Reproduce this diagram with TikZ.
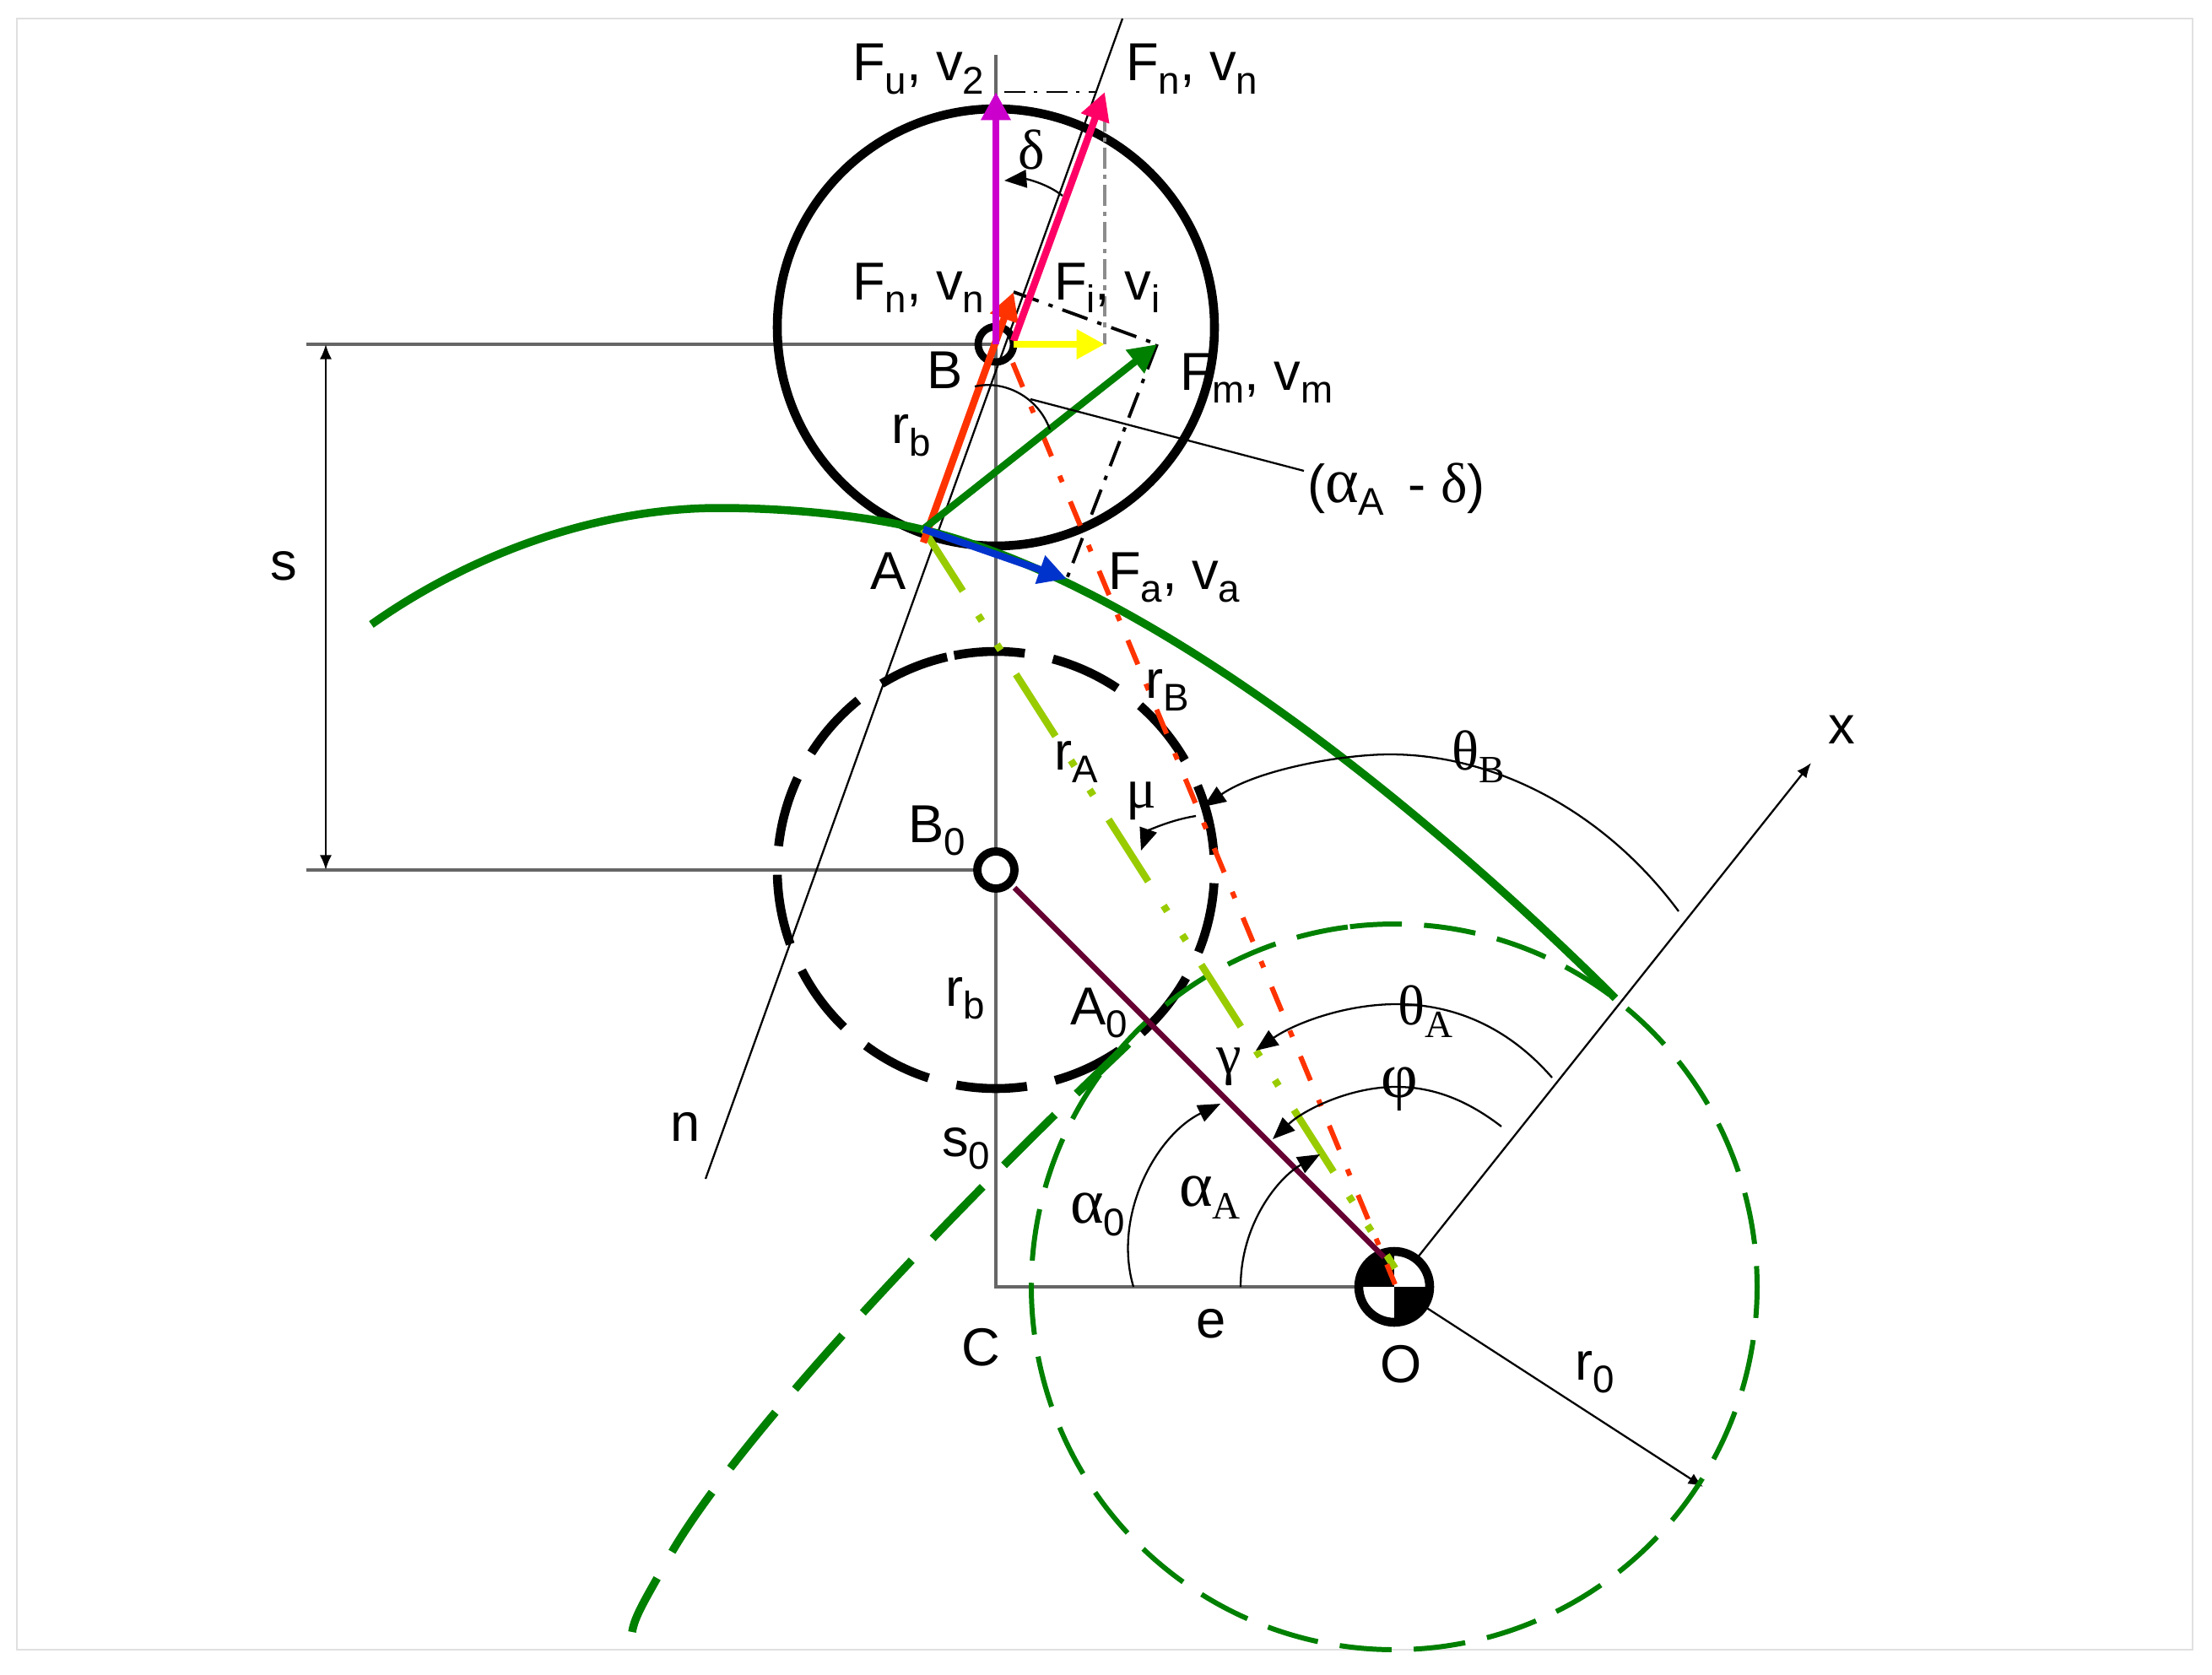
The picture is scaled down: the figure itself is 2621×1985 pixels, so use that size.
\documentclass[tikz,border=0pt]{standalone}
\usepackage{fontspec}
\setmainfont{Liberation Sans}
\newfontfamily\grk{Liberation Serif}
\usetikzlibrary{arrows.meta}
\definecolor{camgreen}{HTML}{008000}
\definecolor{lime}{HTML}{99CC00}
\definecolor{redor}{HTML}{FF3300}
\definecolor{pink}{HTML}{FF0066}
\definecolor{magen}{HTML}{CC00CC}
\definecolor{bluea}{HTML}{0033CC}
\definecolor{plum}{HTML}{660033}
\definecolor{yel}{HTML}{FFFF00}
\newcommand\sbx[1]{\raisebox{-4.4pt}{\fontsize{13}{13}\selectfont #1}}
\newcommand\sbg[1]{\raisebox{-4.4pt}{\grk\fontsize{13}{13}\selectfont #1}}
\newcommand\gk[1]{{\grk\fontsize{19}{19}\selectfont #1}}
\newcommand\gkw[1]{{\grk\fontsize{21.5}{21.5}\selectfont #1}}
\tikzset{
  lab/.style={anchor=base west,inner sep=0pt,outer sep=0pt,font=\fontsize{18}{20}\selectfont},
  guide/.style={draw=black!60,line width=0.9pt},
  thin line/.style={draw=black,line width=0.65pt},
  small arrow/.style={thin line,-{Latex[length=5pt,width=4pt]}},
  angle arrow/.style={thin line,-{Triangle[length=7.5pt,width=6pt]}},
  force/.style={line width=2.4pt,-{Triangle[length=9.5pt,width=9.5pt]}},
  construct/.style={draw=black,line width=1.1pt,dash pattern=on 9pt off 3.5pt on 1.5pt off 3.5pt},
  fine construct/.style={draw=black,line width=.6pt,dash pattern=on 7pt off 3pt on 1.2pt off 3pt},
  gray construct/.style={draw=black!45,line width=1.2pt,dash pattern=on 7pt off 2pt on 1.5pt off 2pt},
  rollerline/.style={draw=black,line width=3pt},
  basedash/.style={draw=camgreen,line width=1.7pt,dash pattern=on 17.5pt off 7.5pt},
  camline/.style={draw=camgreen,line width=2.7pt},
  camdash/.style={camline,dash pattern=on 24.2pt off 10.2pt},
  limedash/.style={draw=lime,line width=2.4pt,dash pattern=on 24.75pt off 9.67pt on 2.28pt off 9.4pt on 2.28pt off 9.67pt},
  reddash/.style={draw=redor,line width=1.7pt,dash pattern=on 8.8pt off 7.1pt on 2.3pt off 7.1pt}
}
\begin{document}
\begin{tikzpicture}[x=0.01cm,y=-0.01cm]
\useasboundingbox (0,0) rectangle (2621,1985);
\fill[white] (0,0) rectangle (2621,1985);
\draw[black!12,line width=0.6pt] (20,22) rectangle (2598,1955);

% points
\coordinate (B) at (1180,408);
\coordinate (B0) at (1180,1031);
\coordinate (C) at (1180,1525);
\coordinate (O) at (1652,1525);
\coordinate (A) at (1094,627);
\coordinate (Atail) at (1094,643);
\coordinate (Vtop) at (1180,65);
\coordinate (Lb) at (363,408);
\coordinate (Lb0) at (363,1031);
\coordinate (Sb) at (386,408);
\coordinate (Sb0) at (386,1031);
\coordinate (Ntop) at (1330,22);
\coordinate (Nbot) at (836,1397);
\coordinate (Xend) at (2146,904);
\coordinate (Rend) at (2018,1762);
\coordinate (FuT) at (1180,109);
\coordinate (FnS) at (1201,404);
\coordinate (FnT) at (1309,109);
\coordinate (FiS) at (1201,408);
\coordinate (FiT) at (1309,408);
\coordinate (FmT) at (1371,408);
\coordinate (FaT) at (1264,686);
\coordinate (RbT) at (1201,346);
\coordinate (RedS) at (1200,430);
\coordinate (RedE) at (1653,1522);
\coordinate (LimeE) at (1653,1503);
\coordinate (PurS) at (1202,1052);
\coordinate (PurE) at (1640,1490);
\coordinate (LeadS) at (1221,473);
\coordinate (LeadE) at (1545,558);

% guide lines
\draw[guide] (Vtop) -- (C) -- (O);
\draw[guide] (Lb) -- (B);
\draw[guide] (Lb0) -- (B0);
\draw[thin line,{Latex[length=5pt,width=4pt]}-{Latex[length=5pt,width=4pt]}] (Sb) -- (Sb0);
\draw[thin line] (Ntop) -- (Nbot);
\draw[small arrow] (O) -- (Xend);
\draw[small arrow] (O) -- (Rend);

% circles
\draw[rollerline] (1180,388) circle[radius=259];
\draw[rollerline,dash pattern=on 23.9pt off 9.67pt] plot[smooth,samples=181,domain=-11:349,variable=\t] ({1180+259*sin(\t)},{1031-259*cos(\t)});
\draw[basedash] plot[smooth,samples=181,domain=-7:353,variable=\t] ({1652+430*sin(\t)},{1525-430*cos(\t)});

% cam profile
\draw[camline] (440,740) .. controls (560,655) and (710,602) .. (852,602) .. controls (940,602) and (1030,612) .. (1095,628) .. controls (1370,695) and (1700,970) .. (1914,1183);
\draw[camdash] (1337,1237) .. controls (1050,1510) and (850,1740) .. (790,1850) .. controls (765,1895) and (752,1915) .. (749,1934);

% construction lines
\draw[fine construct] (1190,109) -- (1300,109);
\draw[gray construct] (FnT) ++(0,22) -- (FiT);
\draw[construct] (RbT) -- (FmT);
\draw[construct] (FmT) -- (FaT);

% ring B
\draw[black,line width=2.5pt] (B) circle[radius=21];

% O symbol
\fill[white] (O) circle[radius=45];
\begin{scope}
\clip (O) circle[radius=45];
\fill[black] (O) rectangle ++(-50,-50);
\fill[black] (O) rectangle ++(50,50);
\end{scope}
\draw[black,line width=3pt] (O) circle[radius=42];

% dashed radii
\draw[limedash] (A) -- (LimeE);
\draw[reddash] (RedS) -- (RedE);
\draw[plum,line width=1.9pt] (PurS) -- (PurE);

% ring B0
\draw[black,line width=2.8pt,fill=white] (B0) circle[radius=22];

% force arrows
\draw[force,redor] (Atail) -- (RbT);
\draw[force,magen] (B) -- (FuT);
\draw[force,pink] (FnS) -- (FnT);
\draw[force,yel] (FiS) -- (FiT);
\draw[force,camgreen] (A) -- (FmT);
\draw[force,bluea] (A) -- (FaT);

% angle marks
\draw[angle arrow] (1259,232) .. controls (1240,217) and (1215,212) .. (1190,214);
\draw[thin line] (1155,458) .. controls (1190,450) and (1230,470) .. (1244,509);
\draw[thin line] (LeadS) -- (LeadE);
\draw[angle arrow] (1989,1080) .. controls (1900,960) and (1770,894) .. (1647,894) .. controls (1590,894) and (1490,912) .. (1426,956);
\draw[angle arrow] (1839,1277) .. controls (1785,1215) and (1720,1190) .. (1655,1190) .. controls (1590,1190) and (1530,1215) .. (1488,1245);
\draw[angle arrow] (1779,1335) .. controls (1740,1305) and (1700,1288) .. (1654,1288) .. controls (1600,1288) and (1545,1315) .. (1508,1350);
\draw[angle arrow] (1470,1525) .. controls (1470,1450) and (1515,1395) .. (1564,1368);
\draw[angle arrow] (1343,1525) .. controls (1318,1440) and (1370,1345) .. (1446,1308);
\draw[angle arrow] (1417,967) .. controls (1385,972) and (1360,985) .. (1352,1008);

% labels
\node[lab] (tFu) at (1010,96) {F\sbx{u}, v\sbx{2}};
\node[lab] (tFnT) at (1334,96) {F\sbx{n}, v\sbx{n}};
\node[lab] (tFn) at (1010,355) {F\sbx{n}, v\sbx{n}};
\node[lab] (tFi) at (1249,355) {F\sbx{i}, v\sbx{i}};
\node[lab] (tB) at (1098,460) {B};
\node[lab] (tFm) at (1398,462) {F\sbx{m}, v\sbx{m}};
\node[lab] (trb) at (1056,525) {r\sbx{b}};
\node[lab] (tad) at (1549,595) {(\gkw{α}\sbx{A}\, - \gk{δ})};
\node[lab] (tA) at (1031,698) {A};
\node[lab] (tFa) at (1313,698) {F\sbx{a}, v\sbx{a}};
\node[lab] (ts) at (320,687) {s};
\node[lab] (trB) at (1357,827) {r\sbx{B}};
\node[lab] (trA) at (1249,912) {r\sbx{A}};
\node[lab] (tmu) at (1334,957) {\gk{μ}};
\node[lab] (tB0) at (1076,998) {B\sbx{0}};
\node[lab] (ttB) at (1720,912) {\gk{θ}\sbg{B}};
\node[lab] (trb2) at (1120,1192) {r\sbx{b}};
\node[lab] (tA0) at (1268,1214) {A\sbx{0}};
\node[lab] (ttA) at (1656,1214) {\gk{θ}\sbg{A}};
\node[lab] (tgam) at (1441,1272) {\gk{γ}};
\node[lab] (tphi) at (1636,1300) {\gkw{φ}};
\node[lab] (taA) at (1397,1429) {\gkw{α}\sbg{A}};
\node[lab] (ta0) at (1268,1449) {\gkw{α}\sbx{0}};
\node[lab] (ts0) at (1116,1370) {s\sbx{0}};
\node[lab] (te) at (1417,1585) {e};
\node[lab] (tC) at (1139,1618) {C};
\node[lab] (tO) at (1635,1638) {O};
\node[lab] (tn) at (794,1352) {n};
\node[lab] (tx) at (2166,881) {x};
\node[lab] (tr0) at (1866,1635) {r\sbx{0}};
\node[lab] (tdel) at (1206,201) {\gk{δ}};
\end{tikzpicture}
\end{document}
